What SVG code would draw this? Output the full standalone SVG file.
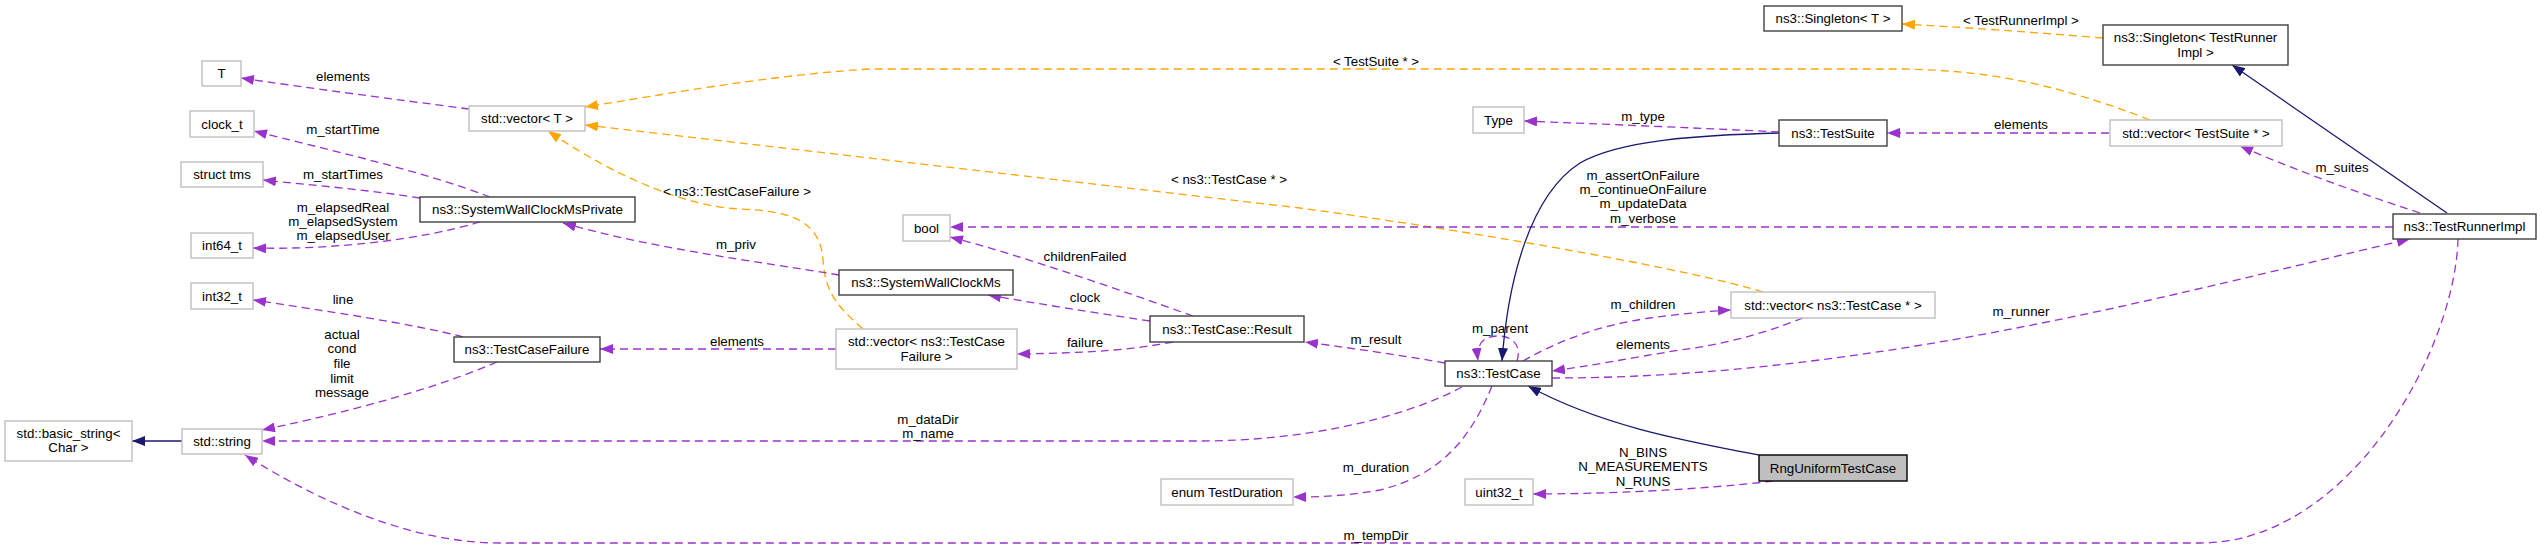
<svg xmlns="http://www.w3.org/2000/svg" width="2541" height="548" viewBox="0 0 2541 548">
<style>
text{font-family:"Liberation Sans",Arial,sans-serif;font-size:13.3px;fill:#000;text-anchor:middle}
.n rect{fill:#fff;stroke:#bfbfbf;stroke-width:1.4}
.d rect{fill:#fff;stroke:#404040;stroke-width:1.4}
.e path{fill:none;stroke-width:1.3}
.p{stroke:#9a32cd;stroke-dasharray:8,5;marker-end:url(#mp)}
.o{stroke:#ffa500;stroke-dasharray:8,5;marker-end:url(#mo)}
.s{stroke:#191970;marker-end:url(#ms)}
</style>
<defs>
<marker id="mp" viewBox="0 0 13 10" refX="13" refY="5" markerWidth="13" markerHeight="10" markerUnits="userSpaceOnUse" orient="auto"><path d="M0,0L13,5L0,10z" fill="#9a32cd"/></marker>
<marker id="mo" viewBox="0 0 13 10" refX="13" refY="5" markerWidth="13" markerHeight="10" markerUnits="userSpaceOnUse" orient="auto"><path d="M0,0L13,5L0,10z" fill="#ffa500"/></marker>
<marker id="ms" viewBox="0 0 13 10" refX="13" refY="5" markerWidth="13" markerHeight="10" markerUnits="userSpaceOnUse" orient="auto"><path d="M0,0L13,5L0,10z" fill="#191970"/></marker>
</defs>
<rect width="2541" height="548" fill="#fff"/>
<g id="edges" class="e">
<path class="s" d="M182,441L132,441"/>
<path class="p" d="M497,362C420,395 320,418 262,430"/>
<path class="p" d="M1462,387C1400,420 1300,441 1200,441L262,441"/>
<path class="p" d="M2458,239C2455,350 2350,543 2200,543L500,543C400,543 300,490 245,455"/>
<path class="p" d="M463,337C420,325 320,310 253,300"/>
<path class="p" d="M469,109C400,100 300,87 241,78"/>
<path class="p" d="M490,197C420,170 320,148 254,131"/>
<path class="p" d="M420,198C370,190 310,185 263,180"/>
<path class="p" d="M480,222C420,240 330,250 253,248"/>
<path class="o" d="M2150,120C2060,85 1990,70 1900,69L870,69C770,75 660,95 585,107"/>
<path class="o" d="M1763,292C1700,272 1500,235 1300,208L585,125"/>
<path class="o" d="M863,329C835,305 825,290 823,260C820,220 790,211 740,209C690,207 620,180 548,131"/>
<path class="p" d="M836,349L600,349"/>
<path class="p" d="M839,275C760,262 650,248 563,223"/>
<path class="p" d="M1150,321C1090,312 1040,304 988,295"/>
<path class="p" d="M1193,316C1120,290 1020,255 950,237"/>
<path class="p" d="M1173,342C1130,350 1090,353 1017,354"/>
<path class="p" d="M2393,227L950,227"/>
<path class="p" d="M1445,363C1400,355 1350,348 1305,342"/>
<path class="p" d="M1517,361C1522,345 1512,336 1498,336C1484,336 1476,343 1478,361"/>
<path class="s" d="M1779,133C1700,135 1620,140 1580,163C1530,195 1508,280 1502,361"/>
<path class="s" d="M1759,455C1680,440 1600,425 1528,386"/>
<path class="p" d="M1523,361C1560,340 1600,325 1650,318C1680,314 1710,311 1731,310"/>
<path class="p" d="M1803,318C1760,335 1720,345 1680,350C1630,358 1590,366 1552,371"/>
<path class="p" d="M1552,378C1750,378 1950,345 2150,300C2260,275 2340,255 2410,239"/>
<path class="p" d="M2420,213C2350,190 2290,168 2240,146"/>
<path class="s" d="M2447,213L2232,65"/>
<path class="o" d="M2103,38C2030,32 1960,27 1902,24"/>
<path class="p" d="M1779,132C1700,128 1600,124 1524,121"/>
<path class="p" d="M2109,133L1887,133"/>
<path class="p" d="M1492,386C1470,440 1440,475 1380,490C1340,497 1310,497 1293,497"/>
<path class="p" d="M1773,481C1700,490 1600,494 1533,494"/>
</g>
<g id="edge-labels">
<text x="343" y="80.5">elements</text>
<text x="343" y="133.5">m_startTime</text>
<text x="343" y="178.5">m_startTimes</text>
<text x="343" y="211.5">m_elapsedReal</text>
<text x="343" y="225.5">m_elapsedSystem</text>
<text x="343" y="239.5">m_elapsedUser</text>
<text x="343" y="303.5">line</text>
<text x="342" y="339">actual</text>
<text x="342" y="353">cond</text>
<text x="342" y="368">file</text>
<text x="342" y="383">limit</text>
<text x="342" y="397">message</text>
<text x="737" y="195.5">&lt; ns3::TestCaseFailure &gt;</text>
<text x="736" y="248.5">m_priv</text>
<text x="737" y="345.5">elements</text>
<text x="1229" y="183.5">&lt; ns3::TestCase * &gt;</text>
<text x="1085" y="260.5">childrenFailed</text>
<text x="1085" y="301.5">clock</text>
<text x="1085" y="346.5">failure</text>
<text x="928" y="423.5">m_dataDir</text>
<text x="928" y="437.5">m_name</text>
<text x="1376" y="65.5">&lt; TestSuite * &gt;</text>
<text x="1643" y="120.5">m_type</text>
<text x="1643" y="179.5">m_assertOnFailure</text>
<text x="1643" y="193.5">m_continueOnFailure</text>
<text x="1643" y="208">m_updateData</text>
<text x="1643" y="222.5">m_verbose</text>
<text x="1500" y="332.5">m_parent</text>
<text x="1376" y="343.5">m_result</text>
<text x="1643" y="308.5">m_children</text>
<text x="1643" y="348.5">elements</text>
<text x="1376" y="471.5">m_duration</text>
<text x="1643" y="456.5">N_BINS</text>
<text x="1643" y="470.5">N_MEASUREMENTS</text>
<text x="1643" y="485.5">N_RUNS</text>
<text x="1376" y="539.5">m_tempDir</text>
<text x="2021" y="24.5">&lt; TestRunnerImpl &gt;</text>
<text x="2021" y="128.5">elements</text>
<text x="2021" y="315.5">m_runner</text>
<text x="2342" y="171.5">m_suites</text>
</g>
<g id="n-T" class="n"><rect x="202" y="61" width="39" height="25"/><text x="221.5" y="78">T</text></g>
<g id="n-clock_t" class="n"><rect x="190" y="111" width="64" height="26"/><text x="222" y="128.5">clock_t</text></g>
<g id="n-tms" class="n"><rect x="181" y="162" width="82" height="25"/><text x="222" y="179">struct tms</text></g>
<g id="n-int64" class="n"><rect x="191" y="233" width="62" height="25"/><text x="222" y="250">int64_t</text></g>
<g id="n-int32" class="n"><rect x="191" y="283" width="62" height="26"/><text x="222" y="300.5">int32_t</text></g>
<g id="n-basic_string" class="n"><rect x="5" y="421" width="127" height="40"/><text x="68.5" y="437.5">std::basic_string&lt;</text><text x="68.5" y="451.5">Char &gt;</text></g>
<g id="n-string" class="n"><rect x="182" y="429" width="80" height="25"/><text x="222" y="446">std::string</text></g>
<g id="n-vectorT" class="n"><rect x="469" y="106" width="116" height="25"/><text x="527" y="123">std::vector&lt; T &gt;</text></g>
<g id="n-swcmp" class="d"><rect x="420" y="197" width="215" height="25"/><text x="527.5" y="214">ns3::SystemWallClockMsPrivate</text></g>
<g id="n-tcf" class="d"><rect x="454" y="337" width="146" height="25"/><text x="527" y="354">ns3::TestCaseFailure</text></g>
<g id="n-vectorTCF" class="n"><rect x="836" y="329" width="181" height="40"/><text x="926.5" y="345.5">std::vector&lt; ns3::TestCase</text><text x="926.5" y="360.5">Failure &gt;</text></g>
<g id="n-swcm" class="d"><rect x="839" y="270" width="174" height="25"/><text x="926" y="287">ns3::SystemWallClockMs</text></g>
<g id="n-bool" class="n"><rect x="903" y="215" width="47" height="26"/><text x="926.5" y="232.5">bool</text></g>
<g id="n-result" class="d"><rect x="1150" y="316" width="154" height="26"/><text x="1227" y="333.5">ns3::TestCase::Result</text></g>
<g id="n-duration" class="n"><rect x="1161" y="479" width="132" height="26"/><text x="1227" y="496.5">enum TestDuration</text></g>
<g id="n-type" class="n"><rect x="1473" y="107" width="51" height="26"/><text x="1498.5" y="124.5">Type</text></g>
<g id="n-testcase" class="d"><rect x="1445" y="361" width="107" height="25"/><text x="1498.5" y="378">ns3::TestCase</text></g>
<g id="n-uint32" class="n"><rect x="1465" y="479" width="68" height="26"/><text x="1499" y="496.5">uint32_t</text></g>
<g id="n-singletonT" class="d"><rect x="1764" y="6" width="138" height="25"/><text x="1833" y="23">ns3::Singleton&lt; T &gt;</text></g>
<g id="n-testsuite" class="d"><rect x="1779" y="120" width="108" height="26"/><text x="1833" y="137.5">ns3::TestSuite</text></g>
<g id="n-vectorTC" class="n"><rect x="1731" y="292" width="204" height="26"/><text x="1833" y="309.5">std::vector&lt; ns3::TestCase * &gt;</text></g>
<g id="n-rng"><rect x="1759" y="455" width="148" height="26" fill="#bfbfbf" stroke="#000" stroke-width="1.4"/><text x="1833" y="472.5">RngUniformTestCase</text></g>
<g id="n-singletonTRI" class="d"><rect x="2103" y="25" width="185" height="40"/><text x="2195.5" y="41.5">ns3::Singleton&lt; TestRunner</text><text x="2195.5" y="56.5">Impl &gt;</text></g>
<g id="n-vectorTS" class="n"><rect x="2110" y="120" width="172" height="26"/><text x="2196" y="137.5">std::vector&lt; TestSuite * &gt;</text></g>
<g id="n-tri" class="d"><rect x="2393" y="214" width="143" height="25"/><text x="2464.5" y="231">ns3::TestRunnerImpl</text></g>
</svg>
